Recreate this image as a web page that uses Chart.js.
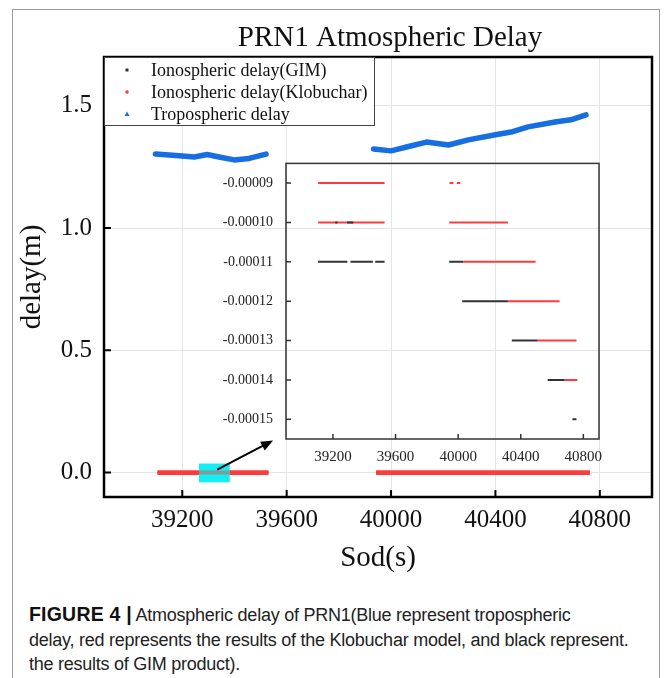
<!DOCTYPE html>
<html>
<head>
<meta charset="utf-8">
<script src="https://cdn.jsdelivr.net/npm/chart.js@4.4.1/dist/chart.umd.min.js"></script>
<style>
  body { margin: 0; background: #fff; width: 665px; height: 678px; overflow: hidden; position: relative; }
  #frame { position: absolute; left: 12px; top: 9px; width: 648px; height: 700px; border: 1.5px solid #9a9a9a; box-sizing: border-box; }
  #main { position: absolute; left: 0; top: 0; }
  #inset { position: absolute; left: 200px; top: 150px; }
  #caption { position: absolute; left: 29px; top: 602px; width: 630px; font-family: "Liberation Sans Narrow", "Liberation Sans", sans-serif; font-size: 18px; line-height: 24.5px; color: #222; white-space: nowrap; letter-spacing: -0.25px; }
  #caption b { color: #111; letter-spacing: 0.2px; font-size: 19.5px; }
</style>
</head>
<body>
<div id="frame"></div>
<canvas id="main" width="665" height="580"></canvas>
<canvas id="inset" width="410" height="320"></canvas>
<div id="caption"><b>FIGURE 4 |</b> Atmospheric delay of PRN1(Blue represent tropospheric<br>delay, red represents the results of the Klobuchar model, and black represent.<br>the results of GIM product).</div>
<script>
// tick labels
const xTicks = [39200, 39600, 40000, 40400, 40800];
const yTicks = [0.0, 0.5, 1.0, 1.5];
const insetYTicks = [-0.00009, -0.00010, -0.00011, -0.00012, -0.00013, -0.00014, -0.00015];

// tropospheric delay (m), two tracking arcs
const tropoSod1 = [39097, 39150, 39200, 39246, 39295, 39341, 39399, 39456, 39521];
const tropoVal1 = [1.303, 1.299, 1.295, 1.291, 1.301, 1.291, 1.279, 1.285, 1.303];
const tropoSod2 = [39933, 40000, 40067, 40136, 40220, 40296, 40395, 40460, 40525, 40628, 40689, 40747];
const tropoVal2 = [1.324, 1.316, 1.334, 1.352, 1.340, 1.361, 1.381, 1.393, 1.414, 1.434, 1.443, 1.463];

// ionospheric delay (GIM) runs: start sod, end sod, value
const gimStart = [39105, 39312, 39470, 39943, 39215, 39290, 40026, 40343, 40572, 40730];
const gimEnd   = [39292, 39455, 39530, 40032, 39228, 39330, 40318, 40508, 40680, 40756];
const gimLevel = [-0.00011, -0.00011, -0.00011, -0.00011, -0.00010, -0.00010, -0.00012, -0.00013, -0.00014, -0.00015];

// ionospheric delay (Klobuchar) runs
const kloStart = [39105, 39945, 39991, 39105, 39943, 40032, 40318, 40508, 40680];
const kloEnd   = [39530, 39970, 40013, 39530, 40318, 40495, 40648, 40756, 40762];
const kloLevel = [-0.00009, -0.00009, -0.00009, -0.00010, -0.00010, -0.00011, -0.00012, -0.00013, -0.00014];

const seriesNames = ['Ionospheric delay(GIM)', 'Ionospheric delay(Klobuchar)', 'Tropospheric delay'];

const BLACK = '#333333', RED = '#ff3a3a', BLUE = '#166ee0';
const SERIF = "'Liberation Serif', 'Times New Roman', serif";

function runs(starts, ends, levels) {
  const pts = [];
  starts.forEach((s, i) => {
    pts.push({ x: s, y: levels[i] }, { x: ends[i], y: levels[i] }, { x: ends[i], y: null });
  });
  return pts;
}
function arcs() {
  const pts = tropoSod1.map((s, i) => ({ x: s, y: tropoVal1[i] }));
  pts.push({ x: tropoSod1[tropoSod1.length - 1], y: null });
  tropoSod2.forEach((s, i) => pts.push({ x: s, y: tropoVal2[i] }));
  return pts;
}

function inwardTicks(chart, len, width, color) {
  const { ctx, chartArea: a, scales } = chart;
  ctx.save();
  ctx.strokeStyle = color;
  ctx.lineWidth = width;
  ctx.beginPath();
  scales.x.ticks.forEach(t => {
    const px = scales.x.getPixelForValue(t.value);
    ctx.moveTo(px, a.bottom); ctx.lineTo(px, a.bottom - len);
  });
  scales.y.ticks.forEach(t => {
    const py = scales.y.getPixelForValue(t.value);
    ctx.moveTo(a.left, py); ctx.lineTo(a.left + len, py);
  });
  ctx.stroke();
  ctx.restore();
}

const mainDecor = {
  id: 'mainDecor',
  afterDatasetsDraw(chart) {
    const { ctx, scales: { x, y } } = chart;
    // highlighted zoom window
    const x0 = x.getPixelForValue(39264), x1 = x.getPixelForValue(39382);
    const y0 = y.getPixelForValue(0.037), y1 = y.getPixelForValue(-0.04);
    ctx.save();
    ctx.fillStyle = '#14eef2';
    ctx.fillRect(x0, y0, x1 - x0, y1 - y0);
    ctx.strokeStyle = '#7f9c9c';
    ctx.lineWidth = 4;
    ctx.beginPath();
    ctx.moveTo(x0, y.getPixelForValue(0)); ctx.lineTo(x1, y.getPixelForValue(0));
    ctx.stroke();
    // arrow to inset
    const ax0 = x.getPixelForValue(39334), ay0 = y.getPixelForValue(0.012);
    const ax1 = x.getPixelForValue(39548), ay1 = y.getPixelForValue(0.131);
    const ang = Math.atan2(ay1 - ay0, ax1 - ax0);
    ctx.strokeStyle = '#000';
    ctx.fillStyle = '#000';
    ctx.lineWidth = 2;
    ctx.beginPath();
    ctx.moveTo(ax0, ay0);
    ctx.lineTo(ax1 - 8 * Math.cos(ang), ay1 - 8 * Math.sin(ang));
    ctx.stroke();
    ctx.beginPath();
    ctx.moveTo(ax1, ay1);
    ctx.lineTo(ax1 - 12 * Math.cos(ang) + 5 * Math.sin(ang), ay1 - 12 * Math.sin(ang) - 5 * Math.cos(ang));
    ctx.lineTo(ax1 - 12 * Math.cos(ang) - 5 * Math.sin(ang), ay1 - 12 * Math.sin(ang) + 5 * Math.cos(ang));
    ctx.closePath();
    ctx.fill();
    ctx.restore();
  },
  afterDraw(chart) {
    const { ctx, chartArea: a } = chart;
    ctx.save();
    ctx.strokeStyle = '#000';
    ctx.lineWidth = 2.5;
    ctx.strokeRect(a.left, a.top, a.right - a.left, a.bottom - a.top);
    ctx.restore();
    inwardTicks(chart, 7, 2, '#000');

    // legend box
    ctx.save();
    const lx = a.left, ly = a.top, lw = 270, lh = 68;
    ctx.fillStyle = '#fff';
    ctx.fillRect(lx, ly, lw, lh);
    ctx.strokeStyle = '#444';
    ctx.lineWidth = 1;
    ctx.strokeRect(lx + 0.5, ly + 0.5, lw, lh);
    ctx.font = '18px ' + SERIF;
    ctx.textBaseline = 'middle';
    ctx.fillStyle = '#111';
    seriesNames.forEach((name, i) => {
      const cy = ly + 13 + i * 22;
      const mx = lx + 23;
      if (i === 0) { ctx.fillStyle = '#333'; ctx.fillRect(mx - 1.5, cy - 1.5, 3, 3); }
      if (i === 1) { ctx.fillStyle = RED; ctx.beginPath(); ctx.arc(mx, cy, 1.8, 0, Math.PI * 2); ctx.fill(); }
      if (i === 2) { ctx.fillStyle = BLUE; ctx.beginPath(); ctx.moveTo(mx, cy - 2.5); ctx.lineTo(mx + 2.5, cy + 2); ctx.lineTo(mx - 2.5, cy + 2); ctx.closePath(); ctx.fill(); }
      ctx.fillStyle = '#111';
      ctx.fillText(name, lx + 47, cy + 1);
    });
    // title
    ctx.font = '29px ' + SERIF;
    ctx.textAlign = 'center';
    ctx.fillText('PRN1 Atmospheric Delay', 390, 38);
    ctx.restore();
  }
};

// Chart.js paints dataset 0 last, so the first one listed ends up on top
new Chart(document.getElementById('main'), {
  type: 'scatter',
  data: {
    datasets: [
      { label: seriesNames[1], data: runs(kloStart, kloEnd, kloLevel), showLine: true, borderColor: RED, borderWidth: 4.8, pointRadius: 0, spanGaps: false, borderCapStyle: 'butt' },
      { label: seriesNames[0], data: runs(gimStart, gimEnd, gimLevel), showLine: true, borderColor: BLACK, borderWidth: 2.5, pointRadius: 0, spanGaps: false },
      { label: seriesNames[2], data: arcs(), showLine: true, borderColor: BLUE, borderWidth: 5.5, pointRadius: 0, spanGaps: false, borderJoinStyle: 'round', borderCapStyle: 'round' }
    ]
  },
  options: {
    responsive: false,
    animation: false,
    devicePixelRatio: 1,
    layout: { padding: { left: 13, top: 57, right: 13, bottom: 4 } },
    plugins: { legend: { display: false }, tooltip: { enabled: false } },
    scales: {
      x: {
        type: 'linear', min: 38900, max: 41000,
        afterBuildTicks: s => { s.ticks = xTicks.map(v => ({ value: v })); },
        afterFit: s => { s.height = 79; },
        grid: { color: '#e4e4e4', lineWidth: 1, drawTicks: false },
        border: { display: false },
        ticks: { font: { family: SERIF, size: 25 }, color: '#111', padding: 8, maxRotation: 0, callback: v => String(v) },
        title: { display: true, text: 'Sod(s)', font: { family: SERIF, size: 29 }, color: '#111', padding: { top: 0, bottom: 0 } }
      },
      y: {
        type: 'linear', min: -0.1, max: 1.7,
        afterBuildTicks: s => { s.ticks = yTicks.map(v => ({ value: v })); },
        afterFit: s => { s.width = 91; },
        grid: { color: '#e4e4e4', lineWidth: 1, drawTicks: false },
        border: { display: false },
        ticks: { font: { family: SERIF, size: 25 }, color: '#111', padding: 12, callback: v => v.toFixed(1) },
        title: { display: true, text: 'delay(m)', font: { family: SERIF, size: 29 }, color: '#111', padding: { top: 2, bottom: 0 } }
      }
    }
  },
  plugins: [mainDecor]
});

const insetDecor = {
  id: 'insetDecor',
  afterDraw(chart) {
    const { ctx, chartArea: a } = chart;
    ctx.save();
    ctx.strokeStyle = '#333';
    ctx.lineWidth = 1.5;
    ctx.strokeRect(a.left, a.top, a.right - a.left, a.bottom - a.top);
    ctx.restore();
    inwardTicks(chart, 5, 1.5, '#333');
  }
};

new Chart(document.getElementById('inset'), {
  type: 'scatter',
  data: {
    datasets: [
      { label: seriesNames[0], data: runs(gimStart, gimEnd, gimLevel), showLine: true, borderColor: BLACK, borderWidth: 2, pointRadius: 0, spanGaps: false },
      { label: seriesNames[1], data: runs(kloStart, kloEnd, kloLevel), showLine: true, borderColor: RED, borderWidth: 2, pointRadius: 0, spanGaps: false }
    ]
  },
  options: {
    responsive: false,
    animation: false,
    devicePixelRatio: 1,
    layout: { padding: { left: 0, top: 12, right: 11, bottom: 0 } },
    plugins: { legend: { display: false }, tooltip: { enabled: false } },
    scales: {
      x: {
        type: 'linear', min: 38900, max: 40900,
        afterBuildTicks: s => { s.ticks = xTicks.map(v => ({ value: v })); },
        afterFit: s => { s.height = 31; },
        grid: { display: false },
        border: { display: false },
        ticks: { font: { family: SERIF, size: 15 }, color: '#222', padding: 1, maxRotation: 0, callback: v => String(v) }
      },
      y: {
        type: 'linear', min: -0.000155, max: -0.000085,
        afterBuildTicks: s => { s.ticks = insetYTicks.map(v => ({ value: v })); },
        afterFit: s => { s.width = 86; },
        grid: { display: false },
        border: { display: false },
        ticks: { font: { family: SERIF, size: 14 }, color: '#222', padding: 5, callback: v => v.toFixed(5) }
      }
    }
  },
  plugins: [insetDecor]
});
</script>
</body>
</html>
